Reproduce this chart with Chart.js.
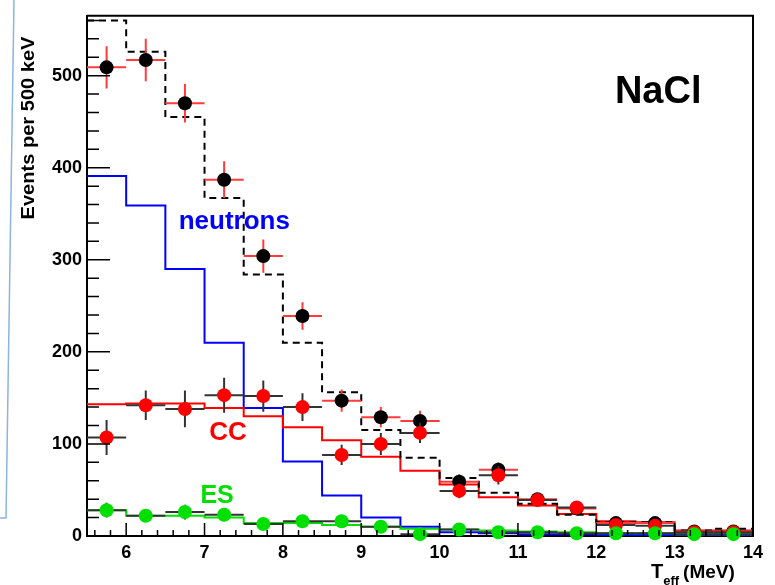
<!DOCTYPE html>
<html>
<head>
<meta charset="utf-8">
<script src="https://cdn.jsdelivr.net/npm/chart.js@4/dist/chart.umd.min.js"></script>
<style>
  html, body { margin: 0; padding: 0; background: #fff; }
  #histChart { display: block; }
</style>
</head>
<body>
<canvas id="histChart" width="775" height="585"></canvas>
<script>
// bin edges and centres (MeV), 500 keV bins
var binEdges = [5.5, 6, 6.5, 7, 7.5, 8, 8.5, 9, 9.5, 10, 10.5, 11, 11.5, 12, 12.5, 13, 13.5, 14];
var binCenters = [5.75, 6.25, 6.75, 7.25, 7.75, 8.25, 8.75, 9.25, 9.75, 10.25, 10.75, 11.25, 11.75, 12.25, 12.75, 13.25, 13.75];

// fitted histograms
var totalFit   = [560, 526, 455, 367, 284, 210, 156, 115, 85, 63, 47, 35, 23, 15, 15, 6, 8];
var ccFit      = [143, 144, 144, 139, 130, 118, 104, 86, 71, 56, 42, 33, 24, 16, 15, 6, 6];
var neutronFit = [391, 359, 290, 210, 139, 81, 44, 20, 10, 4, 3, 2, 2, 1, 1, 1, 1];
var esFit      = [28, 22, 22, 20, 14, 14, 12, 10, 8, 7, 6, 5, 4, 3, 3, 2, 2];

// data points and errors
var dataTotal = [509, 517, 470, 387, 304, 239, 147, 129, 125, 59, 72, 40, 30, 14, 14, 5, 5];
var errTotal  = [23, 23, 21, 20, 18, 15, 12, 11, 11, 8, 8, 6, 6, 4, 4, 2, 2];
var dataCC    = [107, 142, 138, 153, 152, 140, 88, 100, 112, 49, 66, 39, 31, 12, 11, 4, 4];
var errCC     = [19, 16, 20, 19, 17, 15, 11, 12, 11, 8, 10, 7, 7, 5, 5, 3, 3];
var dataES    = [28, 22, 26, 23, 13, 16, 16, 10, 2, 7, 4, 4, 3, 3, 3, 2, 2];
var errES     = [8, 6, 8, 7, 6, 6, 6, 5, 5, 4, 4, 3, 3, 3, 3, 2, 2];

var xTickValues = [6, 7, 8, 9, 10, 11, 12, 13, 14];
var yTickValues = [0, 100, 200, 300, 400, 500];

var fontFamily = "'Liberation Sans', Arial, Helvetica, sans-serif";

function stepPoints(values) {
  return binEdges.map(function(e, i) {
    return { x: e, y: values[Math.min(i, values.length - 1)] };
  });
}

function pointList(values) {
  return binCenters.map(function(c, i) { return { x: c, y: values[i] }; });
}

function histDataset(values, color, dash, order) {
  return {
    type: 'line',
    data: stepPoints(values),
    stepped: 'before',
    borderColor: color,
    borderWidth: 2,
    borderDash: dash || [],
    pointRadius: 0,
    fill: false,
    order: order
  };
}

function pointDataset(values, errs, color, errColor, order) {
  return {
    type: 'scatter',
    data: pointList(values),
    backgroundColor: color,
    borderWidth: 0,
    pointRadius: 7,
    clip: false,
    yErr: errs,
    xErr: 0.25,
    errColor: errColor,
    order: order
  };
}

// error bars drawn just before each point dataset
var errorBars = {
  id: 'errorBars',
  beforeDatasetDraw: function(chart, args) {
    var ds = chart.data.datasets[args.index];
    if (!ds.yErr) return;
    var xs = chart.scales.x, ys = chart.scales.y, ctx = chart.ctx, a = chart.chartArea;
    ctx.save();
    ctx.beginPath();
    ctx.rect(a.left, a.top, a.right - a.left, a.bottom - a.top);
    ctx.clip();
    ctx.strokeStyle = ds.errColor;
    ctx.lineWidth = 2;
    ds.data.forEach(function(p, i) {
      var px = xs.getPixelForValue(p.x), py = ys.getPixelForValue(p.y);
      ctx.beginPath();
      ctx.moveTo(xs.getPixelForValue(p.x - ds.xErr), py);
      ctx.lineTo(xs.getPixelForValue(p.x + ds.xErr), py);
      ctx.moveTo(px, ys.getPixelForValue(p.y - ds.yErr[i]));
      ctx.lineTo(px, ys.getPixelForValue(p.y + ds.yErr[i]));
      ctx.stroke();
    });
    ctx.restore();
  }
};

// frame, inward ticks, titles and labels
var decorations = {
  id: 'decorations',
  afterDraw: function(chart) {
    var ctx = chart.ctx, a = chart.chartArea;
    var xs = chart.scales.x, ys = chart.scales.y;
    ctx.save();

    // top / right frame
    ctx.strokeStyle = '#000';
    ctx.lineWidth = 2;
    ctx.beginPath();
    ctx.moveTo(a.left, a.top);
    ctx.lineTo(a.right, a.top);
    ctx.lineTo(a.right, a.bottom);
    ctx.stroke();

    // x ticks (major every 1, minor every 0.2)
    ctx.lineWidth = 1.5;
    ctx.beginPath();
    for (var k = 28; k <= 70; k++) {
      var xv = k / 5;
      var xp = xs.getPixelForValue(xv);
      var len = (k % 5 === 0) ? 13 : 6;
      ctx.moveTo(xp, a.bottom);
      ctx.lineTo(xp, a.bottom - len);
    }
    // y ticks (major every 100, minor every 20)
    for (var v = 0; v <= 560; v += 20) {
      var yp = ys.getPixelForValue(v);
      var ylen = (v % 100 === 0) ? 23 : 12;
      ctx.moveTo(a.left, yp);
      ctx.lineTo(a.left + ylen, yp);
    }
    ctx.stroke();

    // y axis title, stretched along its length
    ctx.save();
    ctx.translate(29, 128);
    ctx.rotate(-Math.PI / 2);
    ctx.font = 'bold 19px ' + fontFamily;
    var w = ctx.measureText('Events per 500 keV').width;
    ctx.scale(183 / w, 1);
    ctx.fillStyle = '#000';
    ctx.textAlign = 'center';
    ctx.textBaseline = 'middle';
    ctx.fillText('Events per 500 keV', 0, 0);
    ctx.restore();

    // x axis title with subscript
    ctx.fillStyle = '#000';
    ctx.textBaseline = 'alphabetic';
    ctx.textAlign = 'left';
    var tx = 651;
    ctx.font = 'bold 20px ' + fontFamily;
    ctx.fillText('T', tx, 578);
    tx += ctx.measureText('T').width;
    ctx.font = 'bold 13px ' + fontFamily;
    ctx.fillText('eff', tx, 585);
    tx += ctx.measureText('eff').width + 4;
    ctx.font = 'bold 19px ' + fontFamily;
    ctx.fillText('(MeV)', tx, 578);

    // labels inside plot
    ctx.textAlign = 'center';
    ctx.textBaseline = 'middle';
    var labels = [
      { text: 'NaCl', x: 12.79, y: 482, color: '#000', font: 'bold 38px ' + fontFamily },
      { text: 'neutrons', x: 7.38, y: 341, color: '#0000ff', font: 'bold 26px ' + fontFamily },
      { text: 'CC', x: 7.30, y: 112, color: '#ff0000', font: 'bold 26px ' + fontFamily },
      { text: 'ES', x: 7.16, y: 43, color: '#00e000', font: 'bold 25px ' + fontFamily }
    ];
    labels.forEach(function(l) {
      ctx.font = l.font;
      ctx.fillStyle = l.color;
      ctx.fillText(l.text, xs.getPixelForValue(l.x), ys.getPixelForValue(l.y));
    });

    // slide border remnant on the left
    ctx.strokeStyle = '#8db3e2';
    ctx.lineWidth = 1.5;
    ctx.beginPath();
    ctx.moveTo(14, 0);
    ctx.lineTo(6, 518);
    ctx.lineTo(0, 518);
    ctx.stroke();

    ctx.restore();
  }
};

var histChart = new Chart(document.getElementById('histChart'), {
  type: 'scatter',
  data: {
    datasets: [
      pointDataset(dataES, errES, '#00e000', '#333333', 1),
      pointDataset(dataCC, errCC, '#ff0000', '#333333', 2),
      pointDataset(dataTotal, errTotal, '#000000', '#ff3b3b', 3),
      histDataset(totalFit, '#000000', [7, 5], 4),
      histDataset(esFit, '#00e000', null, 5),
      histDataset(ccFit, '#ff0000', null, 6),
      histDataset(neutronFit, '#0000ff', null, 7)
    ]
  },
  options: {
    responsive: false,
    animation: false,
    devicePixelRatio: 1,
    layout: { padding: { top: 9, right: 22, left: 0, bottom: 0 } },
    plugins: {
      legend: { display: false },
      tooltip: { enabled: false }
    },
    scales: {
      x: {
        type: 'linear',
        min: 5.5,
        max: 14,
        afterBuildTicks: function(scale) {
          scale.ticks = xTickValues.map(function(v) { return { value: v }; });
        },
        afterFit: function(scale) { scale.height = 49; },
        grid: { display: false, drawTicks: false },
        border: { display: true, color: '#000', width: 2 },
        ticks: {
          color: '#000',
          padding: 6,
          maxRotation: 0,
          font: { family: fontFamily, size: 18, weight: 'bold' }
        }
      },
      y: {
        type: 'linear',
        min: 0,
        max: 565,
        afterBuildTicks: function(scale) {
          scale.ticks = yTickValues.map(function(v) { return { value: v }; });
        },
        afterFit: function(scale) { scale.width = 87; },
        grid: { display: false, drawTicks: false },
        border: { display: true, color: '#000', width: 2 },
        ticks: {
          color: '#000',
          padding: 5,
          font: { family: fontFamily, size: 18, weight: 'bold' }
        }
      }
    }
  },
  plugins: [errorBars, decorations]
});
</script>
</body>
</html>
